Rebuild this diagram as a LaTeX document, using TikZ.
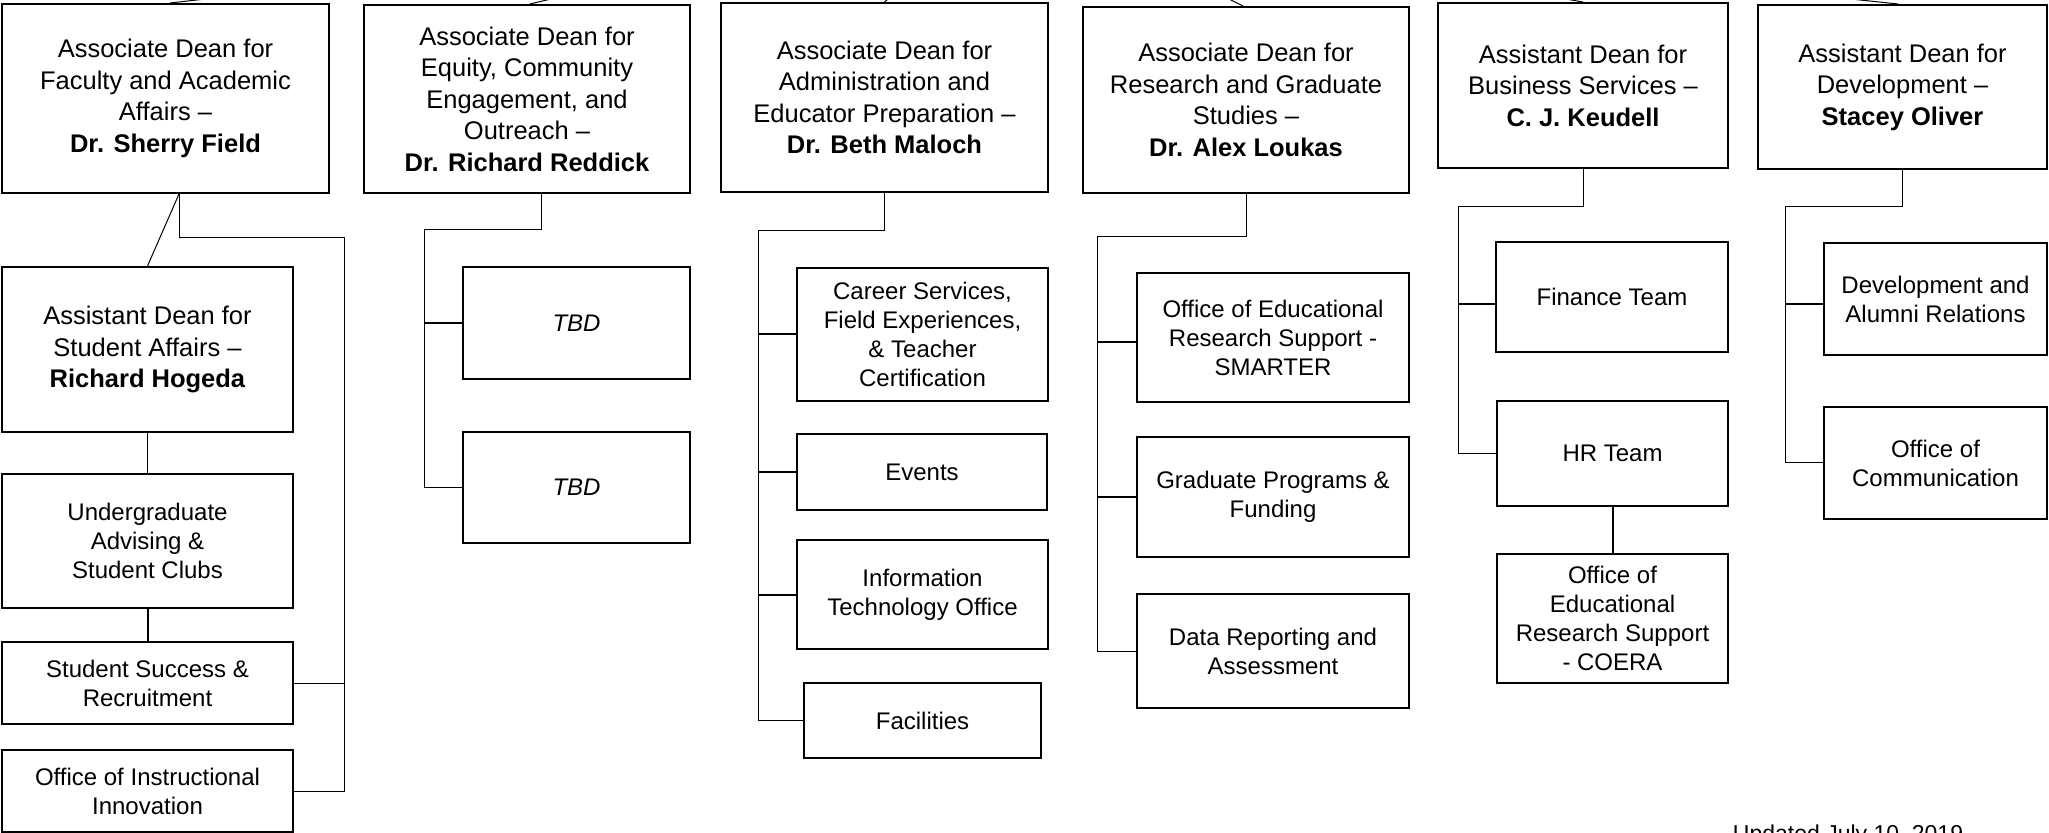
\documentclass[tikz,border=0pt]{standalone}
\usepackage{fontspec}
\setmainfont{Liberation Sans}
\usepackage{tikz}

\begin{document}
\begin{tikzpicture}[x=0.5pt,y=-0.5pt,
  headbox/.style={draw, line width=1pt, align=center, inner sep=0pt,
    font=\fontsize{12.75}{15.75}\selectfont},
  unitbox/.style={draw, line width=1pt, align=center, inner sep=0pt,
    font=\fontsize{12}{14.5}\selectfont},
  wire/.style={line width=0.5pt},
  stub/.style={line width=1pt}]
\fill[white] (0,0) rectangle (2049,833);
\clip (0,0) rectangle (2049,833);
% Drawing head boxes
\node[headbox, minimum width=163.5pt, minimum height=94.5pt] (fac) at (165.5,98.5) {Associate Dean for\\Faculty and Academic\\Affairs --\\\textbf{Dr. Sherry Field}};
\node[headbox, minimum width=163pt, minimum height=94pt] (equ) at (527,99) {Associate Dean for\\Equity, Community\\Engagement, and\\Outreach --\\\textbf{Dr. Richard Reddick}};
\node[headbox, minimum width=163.5pt, minimum height=94.5pt] (adm) at (884.5,97.5) {Associate Dean for\\Administration and\\Educator Preparation --\\\textbf{Dr. Beth Maloch}};
\node[headbox, minimum width=163pt, minimum height=93pt] (res) at (1246,100) {Associate Dean for\\Research and Graduate\\Studies --\\\textbf{Dr. Alex Loukas}};
\node[headbox, minimum width=145pt, minimum height=82.5pt] (bus) at (1583,85.5) {Assistant Dean for\\Business Services --\\\textbf{C. J. Keudell}};
\node[headbox, minimum width=144.5pt, minimum height=82pt] (dev) at (1902.5,87) {Assistant Dean for\\Development --\\\textbf{Stacey Oliver}};
% Done with head boxes; drawing unit boxes
% Column 1
\node[headbox, minimum width=145.5pt, minimum height=82.5pt] (sa) at (147.5,349.5) {Assistant Dean for\\Student Affairs --\\\textbf{Richard Hogeda}};
\node[unitbox, minimum width=145.5pt, minimum height=67pt] (uga) at (147.5,541) {Undergraduate\\Advising \&\\Student Clubs};
\node[unitbox, minimum width=145.5pt, minimum height=41pt] (ssr) at (147.5,683) {Student Success \&\\Recruitment};
\node[unitbox, minimum width=145.5pt, minimum height=41pt] (oii) at (147.5,791) {Office of Instructional\\Innovation};
% Column 2
\node[unitbox, minimum width=113.5pt, minimum height=56pt] (tbda) at (576.5,323) {\textit{TBD}};
\node[unitbox, minimum width=113.5pt, minimum height=55.5pt] (tbdb) at (576.5,487.5) {\textit{TBD}};
% Column 3
\node[unitbox, minimum width=125.5pt, minimum height=66.5pt] (car) at (922.5,334.5) {Career Services,\\Field Experiences,\\\& Teacher\\Certification};
\node[unitbox, minimum width=125pt, minimum height=38pt] (evt) at (922,472) {Events};
\node[unitbox, minimum width=125.5pt, minimum height=54.5pt] (ito) at (922.5,594.5) {Information\\Technology Office};
\node[unitbox, minimum width=118.5pt, minimum height=37.5pt] (fcl) at (922.5,720.5) {Facilities};
% Column 4
\node[unitbox, minimum width=136pt, minimum height=64.5pt] (sma) at (1273,337.5) {Office of Educational\\Research Support -\\SMARTER};
\node[unitbox, minimum width=136pt, minimum height=60pt] (gpf) at (1273,497) {Graduate Programs \&\\Funding};
\node[unitbox, minimum width=136pt, minimum height=57pt] (dra) at (1273,651) {Data Reporting and\\Assessment};
% Column 5
\node[unitbox, minimum width=116pt, minimum height=55pt] (fin) at (1612,297) {Finance Team};
\node[unitbox, minimum width=115.5pt, minimum height=52.5pt] (hr) at (1612.5,453.5) {HR Team};
\node[unitbox, minimum width=115.5pt, minimum height=64.5pt] (coe) at (1612.5,618.5) {Office of\\Educational\\Research Support\\- COERA};
% Column 6
\node[unitbox, minimum width=111.5pt, minimum height=56pt] (dar) at (1935.5,299) {Development and\\Alumni Relations};
\node[unitbox, minimum width=111.5pt, minimum height=56pt] (com) at (1935.5,463) {Office of\\Communication};
% Done with boxes; drawing connectors
\coordinate (facup) at (250,-6);
\coordinate (equup) at (572,-6);
\coordinate (admup) at (894,-6);
\coordinate (resup) at (1219,-6);
\coordinate (busup) at (1537,-6);
\coordinate (devup) at (1803,-6);
\draw[wire] ([xshift=2.25pt]fac.north) -- (facup);
\draw[wire] ([xshift=1.5pt]equ.north) -- (equup);
\draw[wire] (adm.north) -- (admup);
\draw[wire] ([xshift=-1.5pt]res.north) -- (resup);
\draw[wire] (bus.north) -- (busup);
\draw[wire] ([xshift=-2.25pt]dev.north) -- (devup);
\coordinate (facrail) at (344,238);
\coordinate (equrail) at (424,230);
\coordinate (admrail) at (758,231);
\coordinate (resrail) at (1097,237);
\coordinate (busrail) at (1458,207);
\coordinate (devrail) at (1785,207);
% Column 1
\draw[wire] ([xshift=6.75pt]fac.south) -- (sa.north);
\draw[wire] (sa.south) -- (uga.north);
\draw[stub] (uga.south) -- (ssr.north);
\draw[wire] ([xshift=6.75pt]fac.south) |- (facrail) |- (oii.east);
\draw[wire] (ssr.east) -- (ssr.east -| facrail);
% Column 2
\draw[wire] ([xshift=7pt]equ.south) |- (equrail) |- (tbdb.west);
\draw[stub] (tbda.west -| equrail) -- (tbda.west);
% Column 3
\draw[wire] (adm.south) |- (admrail) |- (fcl.west);
\foreach \u in {car,evt,ito}
  \draw[stub] (\u.west -| admrail) -- (\u.west);
% Column 4
\draw[wire] (res.south) |- (resrail) |- (dra.west);
\draw[stub] ([yshift=-2.25pt]sma.west -| resrail) -- ([yshift=-2.25pt]sma.west);
\draw[stub] (gpf.west -| resrail) -- (gpf.west);
% Column 5
\draw[wire] (bus.south) |- (busrail) |- (hr.west);
\draw[stub] ([yshift=-3.5pt]fin.west -| busrail) -- ([yshift=-3.5pt]fin.west);
\draw[stub] (hr.south) -- (coe.north);
% Column 6
\draw[wire] (dev.south) |- (devrail) |- (com.west);
\draw[stub] ([yshift=-2.5pt]dar.west -| devrail) -- ([yshift=-2.5pt]dar.west);
% Done with connectors; drawing date
\node[anchor=base, font=\fontsize{11.5}{14}\selectfont] (date) at (1848,841.5) {Updated July 10, 2019};
\end{tikzpicture}
\end{document}
